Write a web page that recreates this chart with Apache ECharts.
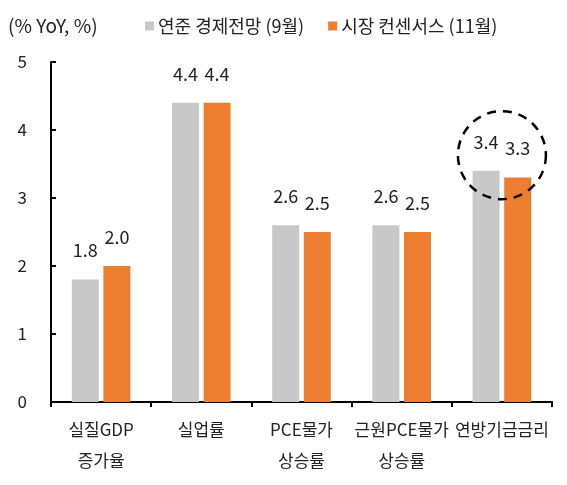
<!DOCTYPE html>
<html>
<head>
<meta charset="utf-8">
<script src="https://cdn.jsdelivr.net/npm/echarts@6/dist/echarts.min.js"></script>
<style>
html,body{margin:0;padding:0;background:#fff;}
#c{width:567px;height:485px;}
</style>
</head>
<body>
<div id="c"></div>
<script>
var categories = ['실질GDP\n증가율', '실업률', 'PCE물가\n상승률', '근원PCE물가\n상승률', '연방기금금리'];
var fedName = '연준 경제전망 (9월)';
var fedValues = [1.8, 4.4, 2.6, 2.6, 3.4];
var mktName = '시장 컨센서스 (11월)';
var mktValues = [2.0, 4.4, 2.5, 2.5, 3.3];
var unitLabel = '(% YoY, %)';
var yTicks = [0, 1, 2, 3, 4, 5];
var highlightCategory = categories[4];
var highlightValue = 3.63;

var FONT = '"Noto Sans CJK KR", "Noto Sans", sans-serif';
var chart = echarts.init(document.getElementById('c'));
var labelStyle = {
  show: true, position: 'top', distance: 20,
  fontFamily: FONT, fontSize: 18, color: '#222',
  formatter: function (p) { return p.value.toFixed(1); }
};
chart.setOption({
  animation: false,
  textStyle: { fontFamily: FONT },
  title: {
    text: unitLabel, left: 3, top: 11, padding: [5, 5, 5, 5],
    textStyle: { fontFamily: FONT, fontSize: 19, fontWeight: 'normal', color: '#222' }
  },
  legend: {
    left: 140, top: 12, itemWidth: 9, itemHeight: 9, itemGap: 24,
    icon: 'rect',
    textStyle: { fontFamily: FONT, fontSize: 18, color: '#222', padding: [0, 0, 0, -1] },
    data: [fedName, mktName]
  },
  grid: { left: 51, right: 15, top: 62, bottom: 83 },
  xAxis: {
    type: 'category', data: categories,
    axisLine: { lineStyle: { color: '#000', width: 2 } },
    axisTick: { show: true, length: 5, lineStyle: { color: '#000', width: 2 } },
    axisLabel: { color: '#222', fontSize: 17, fontFamily: FONT, lineHeight: 31, margin: 12, interval: 0 }
  },
  yAxis: {
    type: 'value', min: yTicks[0], max: yTicks[yTicks.length - 1], interval: 1,
    splitLine: { show: false },
    axisLine: { show: true, lineStyle: { color: '#000', width: 2 } },
    axisTick: { show: true, inside: true, length: 5, lineStyle: { color: '#000', width: 2 } },
    axisLabel: { color: '#222', fontSize: 17, fontFamily: FONT, margin: 24, padding: [3, 0, 0, 0] }
  },
  series: [
    {
      name: fedName, type: 'bar', data: fedValues,
      barWidth: 27, barGap: '17%',
      itemStyle: { color: '#C8C8C8' },
      label: labelStyle
    },
    {
      name: mktName, type: 'bar', data: mktValues,
      barWidth: 27,
      itemStyle: { color: '#ED7D31' },
      label: labelStyle
    }
  ]
});
var ctr = chart.convertToPixel({ xAxisIndex: 0, yAxisIndex: 0 }, [highlightCategory, highlightValue]);
chart.setOption({
  graphic: [{
    type: 'circle', silent: true, z: 10,
    shape: { cx: ctr[0], cy: ctr[1], r: 44 },
    style: { fill: 'none', stroke: '#000', lineWidth: 2.5, lineDash: [9, 7] }
  }]
});
</script>
</body>
</html>
